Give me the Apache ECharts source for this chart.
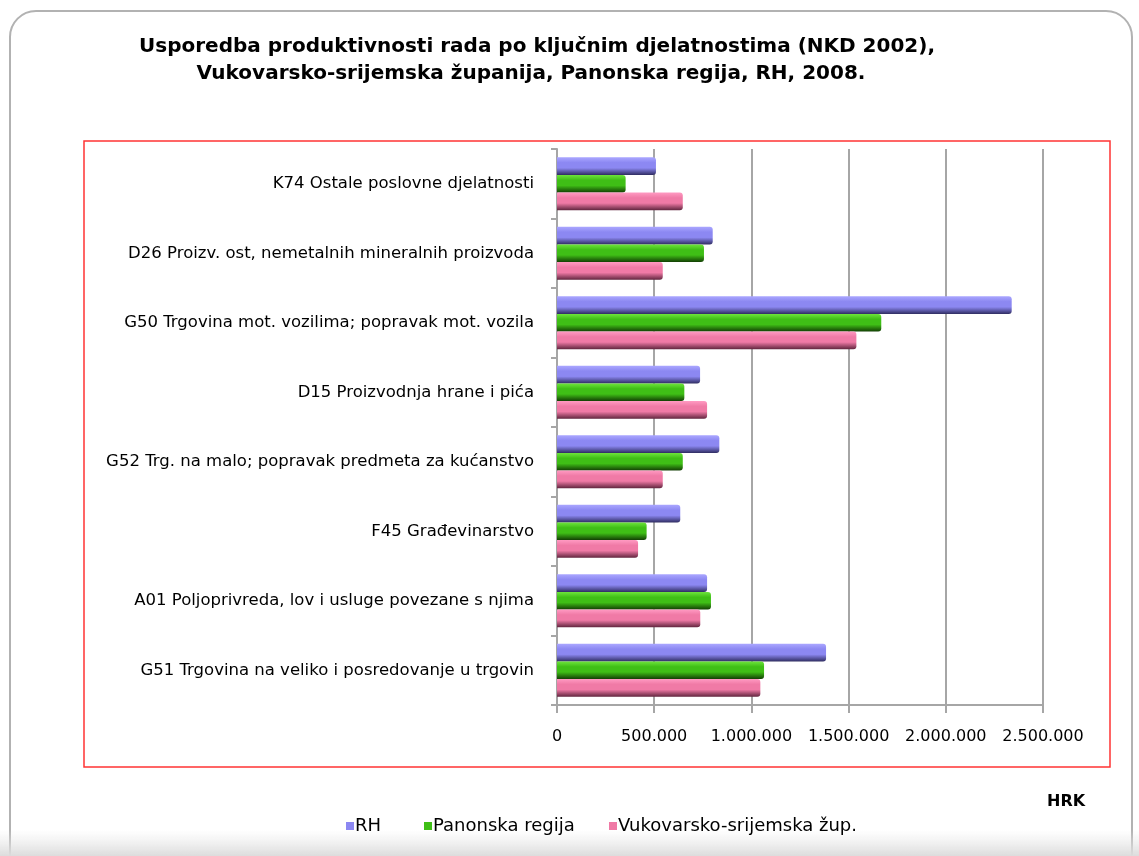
<!DOCTYPE html>
<html>
<head>
<meta charset="utf-8">
<title>Usporedba produktivnosti rada</title>
<script src="https://cdn.jsdelivr.net/npm/echarts@6/dist/echarts.min.js"></script>
<style>
  html, body { margin: 0; padding: 0; background: #fff; }
  #chart { width: 1139px; height: 856px; }
</style>
</head>
<body>
<div id="chart"></div>
<script>
// djelatnosti, odozdo prema gore
const categories = [
  'G51 Trgovina na veliko i posredovanje u trgovin',
  'A01 Poljoprivreda, lov i usluge povezane s njima',
  'F45 Građevinarstvo',
  'G52 Trg. na malo; popravak predmeta za kućanstvo',
  'D15 Proizvodnja hrane i pića',
  'G50 Trgovina mot. vozilima; popravak mot. vozila',
  'D26 Proizv. ost, nemetalnih mineralnih proizvoda',
  'K74 Ostale poslovne djelatnosti'
];
const seriesNames = ['RH', 'Panonska regija', 'Vukovarsko-srijemska žup.'];
const rhValues = [1384000, 772000, 634000, 835000, 736000, 2339000, 801000, 509000];
const panonskaValues = [1065000, 792000, 461000, 647000, 655000, 1668000, 756000, 353000];
const vukovarValues = [1046000, 737000, 417000, 544000, 772000, 1540000, 544000, 647000];
const titleLines = [
  'Usporedba produktivnosti rada po ključnim djelatnostima (NKD 2002),',
  'Vukovarsko-srijemska županija, Panonska regija, RH, 2008.'
];

// 500000 -> 500.000
function fmt(v) {
  return String(v).replace(/\B(?=(\d{3})+(?!\d))/g, '.');
}

// "3D" izgled stupca: svijetlo gore, tamno dolje
function barColor(light, mid, dark) {
  return new echarts.graphic.LinearGradient(0, 0, 0, 1, [
    {offset: 0, color: light},
    {offset: 0.3, color: mid},
    {offset: 0.6, color: mid},
    {offset: 1, color: dark}
  ]);
}

const chart = echarts.init(document.getElementById('chart'));
const labelFont = '"DejaVu Sans", Verdana, sans-serif';
const legendColors = ['#8c88f2', '#3fbf16', '#f07aa6'];
const legendLefts = [346, 424, 609];

const option = {
  animation: false,
  // svaka stavka legende posebno, da se poklope pozicije
  legend: seriesNames.map((name, i) => ({
    left: legendLefts[i],
    top: 817,
    padding: 0,
    itemWidth: 8,
    itemHeight: 8,
    icon: 'rect',
    textStyle: {fontFamily: labelFont, fontSize: 18, color: '#000', padding: [0, 0, 0, -4]},
    data: [{name: name, itemStyle: {color: legendColors[i]}}]
  })),
  grid: {
    left: 557,
    right: 96,
    top: 149,
    bottom: 151,
    outerBoundsMode: 'none',
    containLabel: false
  },
  xAxis: {
    type: 'value',
    min: 0,
    max: 2500000,
    interval: 500000,
    axisLine: {show: true, lineStyle: {color: '#a6a6a6', width: 2}},
    axisTick: {show: true, length: 8, lineStyle: {color: '#a6a6a6', width: 2}},
    axisLabel: {
      margin: 24,
      fontFamily: labelFont,
      fontSize: 16,
      color: '#000',
      formatter: v => fmt(v)
    },
    splitLine: {show: true, lineStyle: {color: '#a6a6a6', width: 2}}
  },
  yAxis: {
    type: 'category',
    data: categories,
    axisLine: {show: true, lineStyle: {color: '#a6a6a6', width: 2}},
    axisTick: {show: true, length: 6, lineStyle: {color: '#a6a6a6', width: 2}},
    axisLabel: {
      margin: 23,
      fontFamily: labelFont,
      fontSize: 16.5,
      color: '#000'
    }
  },
  series: [
    {
      name: seriesNames[0],
      type: 'bar',
      data: rhValues,
      barGap: '0%',
      barCategoryGap: '24%',
      itemStyle: {color: barColor('#aaa6ff', '#8c88f2', '#302d62'), borderRadius: [0, 3, 3, 0]}
    },
    {
      name: seriesNames[1],
      type: 'bar',
      data: panonskaValues,
      barGap: '0%',
      barCategoryGap: '24%',
      itemStyle: {color: barColor('#6ee43c', '#3fbf16', '#123e04'), borderRadius: [0, 3, 3, 0]}
    },
    {
      name: seriesNames[2],
      type: 'bar',
      data: vukovarValues,
      barGap: '0%',
      barCategoryGap: '24%',
      itemStyle: {color: barColor('#ff9ac2', '#f07aa6', '#62263f'), borderRadius: [0, 3, 3, 0]}
    }
  ],
  graphic: [
    // vanjski okvir
    {
      type: 'rect',
      shape: {x: 10, y: 11, width: 1122, height: 880, r: 26},
      style: {fill: 'none', stroke: '#b2b2b2', lineWidth: 2},
      silent: true
    },
    // sjena pri dnu
    {
      type: 'rect',
      shape: {x: 0, y: 830, width: 1139, height: 26},
      style: {
        fill: new echarts.graphic.LinearGradient(0, 0, 0, 1, [
          {offset: 0, color: 'rgba(230,230,230,0)'},
          {offset: 1, color: 'rgba(220,220,220,1)'}
        ])
      },
      silent: true
    },
    // crveni okvir oko grafa
    {
      type: 'rect',
      shape: {x: 84, y: 141, width: 1026, height: 626},
      style: {fill: 'none', stroke: '#ff3333', lineWidth: 1.5},
      silent: true
    },
    // naslov u dva reda
    {
      type: 'text',
      x: 537,
      y: 47,
      style: {
        text: titleLines[0], textAlign: 'center', textVerticalAlign: 'middle',
        fontFamily: labelFont, fontWeight: 'bold', fontSize: 20, fill: '#000'
      }
    },
    {
      type: 'text',
      x: 531,
      y: 74,
      style: {
        text: titleLines[1], textAlign: 'center', textVerticalAlign: 'middle',
        fontFamily: labelFont, fontWeight: 'bold', fontSize: 20, fill: '#000'
      }
    },
    {
      type: 'text',
      left: 1047,
      top: 794,
      style: {text: 'HRK', fontFamily: labelFont, fontWeight: 'bold', fontSize: 16, fill: '#000'}
    }
  ]
};

chart.setOption(option);
</script>
</body>
</html>
